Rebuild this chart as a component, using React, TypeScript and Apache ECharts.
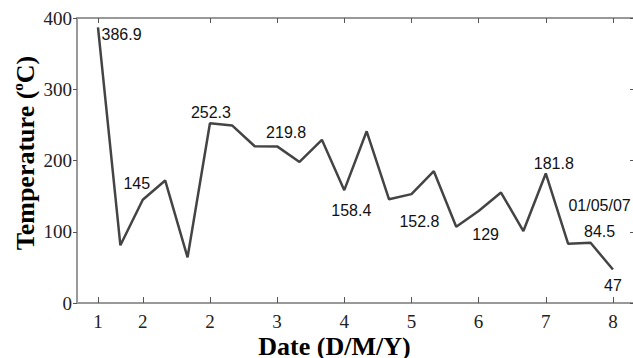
import React, { useEffect, useRef } from "react";
import * as echarts from "echarts";

// Measurement index (one per sample) and readings
const temperatures = [
  386.9, 81, 145, 172, 64, 252.3, 249, 220, 219.8, 198, 229, 158.4,
  241, 145.5, 152.8, 185, 107, 129, 155, 101, 181.8, 83, 84.5, 47,
];
const bottomTickIndex = [0, 2, 5, 8, 11, 14, 17, 20, 23];
const bottomTickLabels = ["1", "2", "2", "3", "4", "5", "6", "7", "8"];
const topTickIndex = [0, 5, 8, 11, 14, 17, 20, 23];
const labelledIndex = [0, 2, 5, 8, 11, 14, 17, 20, 22, 23];
const extraLabelText: Record<number, string> = { 22: "01/05/07" };

// label placement (styles only)
const labelOffsets: Record<number, number[]> = {
  0: [23.5, 6.7],
  2: [-6, -16],
  5: [1, -11],
  8: [9, -14],
  11: [7, 20],
  14: [8, 27],
  17: [7, 23],
  20: [8, -10],
  22: [9, -24],
  23: [0, 16],
};

const SERIF = "Liberation Serif";
const SANS = "Liberation Sans";
const AXIS_GRAY = "#999999";
const TICK_COLOR = "#555";

const makeAxisLine = () => ({
  show: true,
  onZero: false,
  lineStyle: { color: AXIS_GRAY, width: 2 },
});

export default function App() {
  const ref = useRef<HTMLDivElement>(null);
  useEffect(() => {
    if (!ref.current) return;
    const chart = echarts.init(ref.current, undefined, { renderer: "svg" });
    const data = temperatures.map((v, i) => {
      const item: any = { value: [i, v] };
      if (labelledIndex.includes(i)) {
        const txt = extraLabelText[i] ? `${extraLabelText[i]}\n${v}` : `${v}`;
        item.label = {
          show: true,
          position: "inside",
          offset: labelOffsets[i],
          formatter: () => txt,
        };
      }
      return item;
    });
    const xMin = -0.938;
    const xMax = 24.03;
    chart.setOption({
      animation: false,
      grid: {
        show: true,
        borderColor: AXIS_GRAY,
        borderWidth: 2,
        backgroundColor: "transparent",
        left: 77,
        right: -3,
        top: 18,
        bottom: 55,
        containLabel: false,
        outerBoundsMode: "none",
      },
      xAxis: [
        {
          type: "value",
          position: "bottom",
          min: xMin,
          max: xMax,
          name: "Date (D/M/Y)",
          nameLocation: "middle",
          nameGap: 30,
          nameMoveOverlap: false,
          nameTextStyle: {
            fontFamily: SERIF,
            fontWeight: "bold",
            fontSize: 26,
            lineHeight: 26,
            color: "#000",
            padding: [0, 44, 0, 0],
          },
          axisLine: makeAxisLine(),
          axisTick: {
            show: true,
            inside: true,
            length: 6,
            customValues: bottomTickIndex,
            lineStyle: { color: TICK_COLOR, width: 1 },
          },
          axisLabel: {
            show: true,
            margin: 9,
            customValues: bottomTickIndex,
            formatter: (val: number) => {
              const k = bottomTickIndex.indexOf(Math.round(val));
              return k >= 0 ? bottomTickLabels[k] : "";
            },
            fontFamily: SERIF,
            fontSize: 19,
            lineHeight: 19,
            color: "#222",
          },
          splitLine: { show: false },
        },
        {
          type: "value",
          position: "top",
          min: xMin,
          max: xMax,
          axisLine: makeAxisLine(),
          axisTick: {
            show: true,
            inside: true,
            length: 5,
            customValues: topTickIndex,
            lineStyle: { color: TICK_COLOR, width: 1 },
          },
          axisLabel: { show: false },
          splitLine: { show: false },
        },
      ],
      yAxis: [
        {
          type: "value",
          position: "left",
          min: 0,
          max: 400,
          interval: 100,
          name: "{a|Temperature (}{b|o}{a|C)}",
          nameLocation: "middle",
          nameGap: 37,
          nameRotate: 90,
          nameMoveOverlap: false,
          nameTextStyle: {
            padding: [0, 0, 0, 15],
            rich: {
              a: {
                fontFamily: SERIF,
                fontWeight: "bold",
                fontSize: 26,
                color: "#000",
                lineHeight: 30,
              },
              b: {
                fontFamily: SERIF,
                fontWeight: "bold",
                fontSize: 15,
                color: "#000",
                verticalAlign: "top",
                lineHeight: 30,
                padding: [0, 0, 8, 0],
              },
            },
          },
          axisLine: makeAxisLine(),
          axisTick: {
            show: true,
            inside: false,
            length: 4,
            lineStyle: { color: TICK_COLOR, width: 1 },
          },
          axisLabel: {
            margin: 5,
            fontFamily: SERIF,
            fontSize: 19,
            color: "#222",
          },
          splitLine: { show: false },
        },
        {
          type: "value",
          position: "right",
          min: 0,
          max: 400,
          interval: 100,
          axisLine: makeAxisLine(),
          axisTick: {
            show: true,
            inside: true,
            length: 6,
            lineStyle: { color: TICK_COLOR, width: 1 },
          },
          axisLabel: { show: false },
          splitLine: { show: false },
        },
      ],
      series: [
        {
          type: "line",
          data,
          xAxisIndex: 0,
          yAxisIndex: 0,
          symbol: "circle",
          symbolSize: 1,
          showSymbol: true,
          itemStyle: { color: "rgba(0,0,0,0)" },
          lineStyle: { color: "#444", width: 2.5 },
          label: {
            fontFamily: SANS,
            fontSize: 16,
            color: "#111",
            lineHeight: 26,
            align: "center",
          },
          emphasis: { disabled: true },
          z: 3,
        },
      ],
    });
    return () => chart.dispose();
  }, []);
  return (
    <div
      ref={ref}
      style={{ position: "fixed", left: 0, top: 0, width: 633, height: 358, background: "#fff" }}
    />
  );
}
